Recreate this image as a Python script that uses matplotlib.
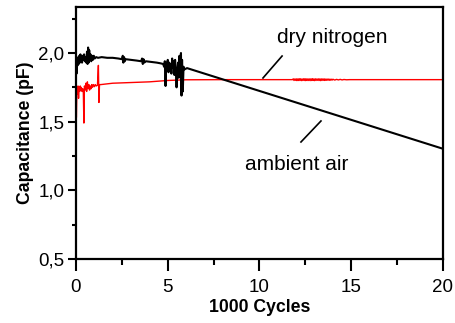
import numpy as np
import matplotlib
matplotlib.use("Agg")
import matplotlib.pyplot as plt

plt.rcParams['font.family'] = ['Liberation Sans', 'DejaVu Sans']

# ambient air (black)
air_x = [0.00, 0.03, 0.06, 0.09, 0.12, 0.15, 0.18, 0.21, 0.24, 0.27, 0.30, 0.33,
         0.36, 0.40, 0.44, 0.48, 0.52, 0.56, 0.60, 0.63, 0.66, 0.69, 0.72, 0.75,
         0.79, 0.83, 0.87, 0.92, 0.97, 1.02, 1.10, 1.20, 1.40, 1.70, 2.00, 2.30,
         2.50, 2.55, 2.58, 2.62, 2.66, 2.70, 3.00, 3.30, 3.55, 3.60, 3.64, 3.68,
         3.72, 3.80, 4.10, 4.40, 4.60, 4.75, 4.80, 4.84, 4.88, 4.92, 4.96, 5.00,
         5.04, 5.08, 5.12, 5.16, 5.20, 5.24, 5.28, 5.32, 5.36, 5.40, 5.44, 5.48,
         5.52, 5.56, 5.60, 5.64, 5.68, 5.72, 5.75, 5.78, 5.82, 5.86, 5.90, 6.05,
         20.3]
air_y = [1.93, 1.85, 1.95, 1.91, 1.97, 1.92, 1.98, 1.93, 1.99, 1.94, 1.97, 1.93,
         1.98, 1.95, 1.99, 1.94, 1.97, 1.93, 2.01, 1.92, 2.04, 1.93, 2.02, 1.95,
         1.99, 1.94, 1.98, 1.95, 1.98, 1.96, 1.97, 1.965, 1.97, 1.965, 1.965, 1.96,
         1.955, 1.98, 1.93, 1.97, 1.94, 1.955, 1.95, 1.945, 1.94, 1.96, 1.92, 1.955,
         1.93, 1.94, 1.935, 1.93, 1.925, 1.92, 1.90, 1.94, 1.76, 1.93, 1.87, 1.95,
         1.86, 1.93, 1.88, 1.92, 1.85, 1.96, 1.89, 1.94, 1.84, 1.95, 1.87, 1.75,
         1.86, 1.93, 1.82, 1.98, 1.85, 2.00, 1.69, 1.95, 1.72, 1.90, 1.88, 1.89,
         1.29]

# dry nitrogen (red)
n2_x = [0.00, 0.02, 0.05, 0.08, 0.11, 0.14, 0.17, 0.20, 0.23, 0.26, 0.29, 0.33,
        0.37, 0.40, 0.43, 0.46, 0.50, 0.54, 0.58, 0.62, 0.66, 0.70, 0.74, 0.78,
        0.82, 0.86, 0.90, 0.95, 1.00, 1.05, 1.10, 1.17, 1.22, 1.25, 1.28, 1.35,
        2.00, 3.00, 4.00, 5.00, 6.00, 8.00, 11.80,
        11.84, 11.88, 11.92, 11.96, 12.00, 12.04, 12.08, 12.12, 12.16, 12.20,
        12.24, 12.28, 12.32, 12.36, 12.40, 12.44, 12.48, 12.52, 12.56, 12.60,
        12.64, 12.68, 12.72, 12.76, 12.80, 12.84, 12.88, 12.92, 12.96, 13.00,
        13.04, 13.08, 13.12, 13.16, 13.20, 13.24, 13.28, 13.32, 13.36, 13.40,
        13.44, 13.48, 13.52, 13.56, 13.60, 13.64, 13.68, 13.72, 13.76, 13.80,
        13.84, 13.88, 13.92, 13.96, 14.00, 14.10, 14.20, 14.30, 14.40, 14.50,
        14.60, 14.75, 14.90, 20.30]
n2_y = [1.93, 1.53, 1.74, 1.70, 1.76, 1.67, 1.75, 1.72, 1.76, 1.73, 1.75, 1.72,
        1.74, 1.71, 1.49, 1.76, 1.73, 1.78, 1.72, 1.79, 1.74, 1.77, 1.73, 1.76,
        1.74, 1.77, 1.75, 1.77, 1.755, 1.77, 1.76, 1.765, 1.91, 1.64, 1.77, 1.77,
        1.78, 1.785, 1.79, 1.80, 1.805, 1.806, 1.806,
        1.812, 1.800, 1.811, 1.801, 1.812, 1.799, 1.811, 1.800, 1.813, 1.800,
        1.812, 1.799, 1.811, 1.800, 1.812, 1.800, 1.813, 1.799, 1.811, 1.800,
        1.812, 1.800, 1.811, 1.799, 1.812, 1.800, 1.813, 1.800, 1.811, 1.799,
        1.812, 1.800, 1.811, 1.801, 1.812, 1.800, 1.811, 1.799, 1.812, 1.800,
        1.811, 1.801, 1.812, 1.800, 1.810, 1.801, 1.811, 1.802, 1.810, 1.801,
        1.810, 1.802, 1.809, 1.803, 1.809, 1.803, 1.808, 1.804, 1.808, 1.804,
        1.807, 1.805, 1.806, 1.806]

x_ticks = [0, 5, 10, 15, 20]
y_ticks = [0.5, 1.0, 1.5, 2.0]
y_labels = ["0,5", "1,0", "1,5", "2,0"]

fig = plt.figure(figsize=(4.56, 3.23), dpi=100)
ax = fig.add_axes([76 / 456, 64 / 323, 367 / 456, 252 / 323])

ax.plot(n2_x, n2_y, color="red", lw=1.0, zorder=2)
ax.plot(air_x, air_y, color="black", lw=1.5, zorder=3)

ax.set_xlim(0, 20)
ax.set_ylim(0.5, 2.335)
ax.set_xticks(x_ticks)
ax.set_xticklabels([str(t) for t in x_ticks])
ax.set_xticks([2.5, 7.5, 12.5, 17.5], minor=True)
ax.set_yticks(y_ticks)
ax.set_yticklabels(y_labels)
ax.set_yticks([0.75, 1.25, 1.75, 2.25], minor=True)

for s in ax.spines.values():
    s.set_linewidth(1.6)
ax.tick_params(axis="x", which="major", length=8.5, width=1.5, labelsize=13.5, pad=6)
ax.tick_params(axis="x", which="minor", length=4.5, width=1.5)
ax.tick_params(axis="y", which="major", length=5.5, width=1.5, labelsize=13.5, pad=3)
ax.tick_params(axis="y", which="minor", length=3, width=1.5)

ax.set_xlabel("1000 Cycles", fontsize=12.7, fontweight="bold", labelpad=2)
ax.set_ylabel("Capacitance (pF)", fontsize=12.7, fontweight="bold", labelpad=3)

ax.text(10.95, 2.073, "dry nitrogen", fontsize=15)
ax.plot([10.19, 11.23], [1.818, 1.978], color="black", lw=1.2)
ax.text(9.21, 1.148, "ambient air", fontsize=15)
ax.plot([12.26, 13.35], [1.352, 1.505], color="black", lw=1.2)

fig.savefig("out.png", dpi=100)
